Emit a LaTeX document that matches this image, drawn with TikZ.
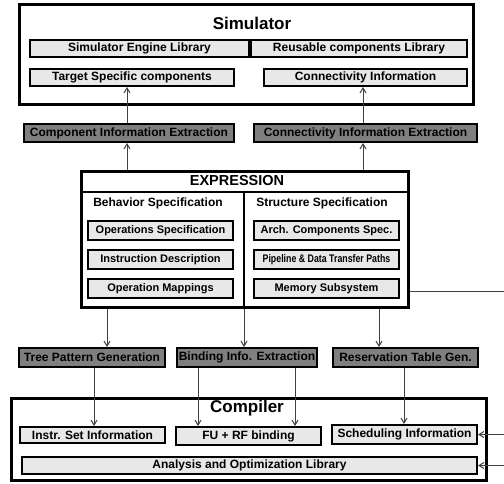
\documentclass[tikz,border=0pt]{standalone}
\usepackage{fontspec}
\setmainfont{Liberation Sans}
\usetikzlibrary{arrows.meta,calc}
\definecolor{lightbox}{HTML}{E8E8E8}
\definecolor{darkbox}{HTML}{7F7F7F}
\definecolor{arrowgray}{HTML}{404040}
\tikzset{
  txt/.style={font=\fontsize{12}{14}\selectfont\bfseries},
  inbox/.style={txt, draw=black, line width=2pt, fill=lightbox, inner sep=0pt},
  spbox/.style={inbox, font=\fontsize{11}{13}\selectfont\bfseries},
  darkbx/.style={txt, draw=black, line width=2pt, fill=darkbox, inner sep=0pt},
  outerbox/.style={draw=black, line width=3pt, fill=white, inner sep=0pt},
  arr/.style={draw=arrowgray, line width=1pt, -{Straight Barb[length=5pt,width=6pt]}},
  plainline/.style={draw=arrowgray, line width=1pt},
  bigtitle/.style={font=\fontsize{17}{20}\selectfont\bfseries, inner sep=0pt},
  midtitle/.style={font=\fontsize{14.5}{17}\selectfont\bfseries, inner sep=0pt},
  subtitle/.style={txt, inner sep=0pt}
}
\begin{document}
\begin{tikzpicture}[x=1pt,y=-1pt]
\useasboundingbox (0,0) rectangle (504,483);
% outer frames
\node[outerbox, minimum width=454pt, minimum height=100pt] (sim) at (246.5,54.5) {};
\node[outerbox, minimum width=327pt, minimum height=136pt] (expr) at (245,239.5) {};
\node[outerbox, minimum width=475pt, minimum height=82pt] (comp) at (249,439.5) {};
% titles
\node[bigtitle] (simt) at (252,23) {Simulator};
\node[midtitle] (exprt) at (237,181) {EXPRESSION};
\node[bigtitle] (compt) at (247,408) {Compiler};
% expression dividers
\coordinate (hd) at (0,192);
\coordinate (vd) at (244,0);
\draw[line width=2pt] (expr.west |- hd) -- (expr.east |- hd);
\draw[line width=1.5pt] (vd |- hd) -- (vd |- expr.south);
% simulator contents
\node[inbox, minimum width=219pt, minimum height=17pt] (eng) at (139.5,48.5) {Simulator Engine Library};
\node[inbox, minimum width=216pt, minimum height=17pt] (reu) at (359,48.5) {Reusable components Library};
\node[inbox, minimum width=204pt, minimum height=17pt] (tsc) at (132,77.5) {Target Specific components};
\node[inbox, minimum width=203pt, minimum height=17pt] (coi) at (365.5,77.5) {Connectivity Information};
% extraction boxes
\node[darkbx, minimum width=210pt, minimum height=18pt] (cie) at (129,133) {Component Information Extraction};
\node[darkbx, minimum width=223pt, minimum height=18pt] (cne) at (365.5,133) {Connectivity Information Extraction};
% expression contents
\node[subtitle] (beh) at (158,203) {Behavior Specification};
\node[subtitle] (str) at (322,203) {Structure Specification};
\node[spbox, minimum width=145pt, minimum height=19pt] (ops) at (160.5,230.5) {Operations Specification};
\node[spbox, minimum width=145pt, minimum height=19pt] (ins) at (160.5,259.5) {Instruction Description};
\node[spbox, minimum width=145pt, minimum height=19pt] (opm) at (160.5,288.5) {Operation Mappings};
\node[spbox, minimum width=145pt, minimum height=19pt] (arc) at (326.5,230.5) {Arch. Components Spec.};
\node[spbox, minimum width=145pt, minimum height=19pt] (pip) at (326.5,259.5) {\scalebox{0.8}[1]{Pipeline \& Data Transfer Paths}};
\node[spbox, minimum width=145pt, minimum height=19pt] (mem) at (326.5,288.5) {Memory Subsystem};
% generation boxes
\node[darkbx, minimum width=146pt, minimum height=19pt] (tree) at (92,357.5) {Tree Pattern Generation};
\node[darkbx, minimum width=140pt, minimum height=19pt] (bind) at (247,357.5) {Binding Info. Extraction};
\node[darkbx, minimum width=145pt, minimum height=19pt] (resv) at (405.5,357.5) {Reservation Table Gen.};
% compiler contents
\node[inbox, minimum width=145pt, minimum height=16pt] (isi) at (92.5,435) {Instr. Set Information};
\node[inbox, minimum width=145pt, minimum height=18pt] (fu) at (248.5,436) {FU + RF binding};
\node[inbox, minimum width=145pt, minimum height=19pt] (sch) at (404.5,434.5) {Scheduling Information};
\node[inbox, minimum width=455pt, minimum height=17pt] (ana) at (249.5,465.5) {Analysis and Optimization Library};
% connectors
\coordinate (a1) at (127,0);
\coordinate (a2) at (363,0);
\draw[arr] (expr.north -| a1) -- (cie.south -| a1);
\draw[arr] (cie.north -| a1) -- (tsc.south -| a1);
\draw[arr] (expr.north -| a2) -- (cne.south -| a2);
\draw[arr] (cne.north -| a2) -- (coi.south -| a2);
\coordinate (b1) at (107,0);
\coordinate (b2) at (244,0);
\coordinate (b3) at (379,0);
\draw[arr] (expr.south -| b1) -- (tree.north -| b1);
\draw[arr] (expr.south -| b2) -- (bind.north -| b2);
\draw[arr] (expr.south -| b3) -- (resv.north -| b3);
\coordinate (c1) at (94,0);
\coordinate (c2) at (198,0);
\coordinate (c3) at (295,0);
\coordinate (c4) at (404,0);
\draw[arr] (tree.south -| c1) -- (isi.north -| c1);
\draw[arr] (bind.south -| c2) -- (fu.north -| c2);
\draw[arr] (bind.south -| c3) -- (fu.north -| c3);
\draw[arr] (resv.south -| c4) -- (sch.north -| c4);
\coordinate (rx) at (504,291);
\draw[plainline] (expr.east |- rx) -- (rx);
\draw[arr] (rx |- sch.east) -- (sch.east);
\draw[arr] (rx |- ana.east) -- (ana.east);
\end{tikzpicture}
\end{document}
